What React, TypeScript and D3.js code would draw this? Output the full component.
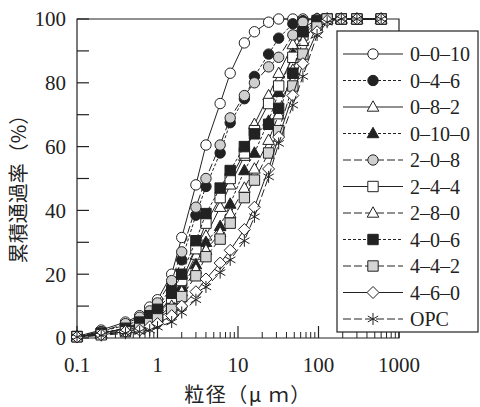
import * as d3 from 'd3';

// particle size (µm) at which each cumulative passing value was read
const sizes = [0.1, 0.2, 0.4, 0.6, 0.8, 1, 1.5, 2, 3, 4, 6, 8, 12, 16, 24, 32, 48, 64, 96, 128, 192, 300, 600];

const pass_0_0_10 = [0.5, 2.5, 5, 7, 9.7, 12, 20, 31.5, 48, 60.5, 73.5, 83, 92.5, 96, 99, 100, 100, 100, 100, 100, 100, 100, 100];
const pass_0_4_6 = [0.5, 2, 4, 5.5, 7.5, 9.5, 16, 24.5, 38.5, 47.5, 58, 67.5, 75, 82, 89, 94, 98.5, 99.5, 100, 100, 100, 100, 100];
const pass_0_8_2 = [0.4, 1.5, 3, 4.5, 6, 7.5, 12, 17, 26, 32, 41, 48, 57, 67, 76, 83, 92, 97, 100, 100, 100, 100, 100];
const pass_0_10_0 = [0.4, 1.5, 3, 4, 5.5, 7, 11, 16, 23, 30, 35, 42, 52.5, 58, 68, 77, 89, 96, 99.5, 100, 100, 100, 100];
const pass_2_0_8 = [0.5, 2, 4.5, 6.5, 8.5, 11, 18, 27, 41, 50, 60.5, 69, 76, 80, 85, 88, 95, 99, 100, 100, 100, 100, 100];
const pass_2_4_4 = [0.4, 1.5, 3, 4.5, 6, 8, 12.5, 18, 28, 36, 44, 50, 58, 65, 73.5, 79, 88, 95, 99, 100, 100, 100, 100];
const pass_2_8_0 = [0.4, 1.2, 2.5, 3.5, 5, 6.5, 10, 14.5, 21.5, 27.5, 33, 39, 47, 53, 62, 70, 84, 93, 99, 100, 100, 100, 100];
const pass_4_0_6 = [0.5, 1.5, 3, 5, 7, 9, 14, 20, 30.5, 39, 47, 52.5, 60, 64, 67, 72, 83, 96, 99.5, 100, 100, 100, 100];
const pass_4_4_2 = [0.4, 1, 2, 3, 4.5, 6, 9, 13, 19.5, 25.5, 31, 36, 44, 49.5, 58, 65, 79, 89, 97.5, 100, 100, 100, 100];
const pass_4_6_0 = [0.3, 1, 2, 2.5, 3.5, 4.5, 7, 10, 14.5, 18.5, 23.5, 27.5, 34, 41, 53, 63, 76, 86, 96, 99.5, 100, 100, 100];
const pass_OPC = [0.3, 0.8, 1.5, 2, 2.5, 3.4, 5, 8, 12, 16, 20.5, 24.5, 30.5, 38, 50.5, 61, 73, 82, 95, 99, 100, 100, 100];

const seriesNames = ['0–0–10', '0–4–6', '0–8–2', '0–10–0', '2–0–8', '2–4–4', '2–8–0', '4–0–6', '4–4–2', '4–6–0', 'OPC'];
const seriesValues = [pass_0_0_10, pass_0_4_6, pass_0_8_2, pass_0_10_0, pass_2_0_8, pass_2_4_4, pass_2_8_0, pass_4_0_6, pass_4_4_2, pass_4_6_0, pass_OPC];

const xTickLabels = ['0.1', '1', '10', '100', '1000'];
const yTickLabels = ['0', '20', '40', '60', '80', '100'];

// styling per series
const markerShapes = ['circle', 'circle', 'triangle', 'triangle', 'circle', 'square', 'triangle', 'square', 'square', 'diamond', 'asterisk'];
const markerFills = ['#fff', '#222', '#fff', '#222', '#cfcfcf', '#fff', '#fff', '#222', '#d4d4d4', '#fff', 'none'];
const lineDashes = ['', '3,2', '', '3,2', '8,3', '', '8,3', '3,2', '8,3', '', '8,3'];

const INK = '#222';

const markerPath = (shape) => {
  switch (shape) {
    case 'circle':
      return 'M5.2,0A5.2,5.2 0 1,1 -5.2,0A5.2,5.2 0 1,1 5.2,0Z';
    case 'triangle':
      return 'M0,-6.2L5.8,4.2L-5.8,4.2Z';
    case 'square':
      return 'M-5.2,-5.2H5.2V5.2H-5.2Z';
    case 'diamond':
      return 'M0,-6L6,0L0,6L-6,0Z';
    default:
      return 'M0,-6V6M-5.2,-3L5.2,3M-5.2,3L5.2,-3';
  }
};

const App = () => {
  const width = 480;
  const height = 407;
  const left = 77;
  const right = 399;
  const top = 19;
  const bottom = 338;

  const x = d3.scaleLog().domain([0.1, 1000]).range([left, right]);
  const y = d3.scaleLinear().domain([0, 100]).range([bottom, top]);

  const line = d3.line().x((d) => x(d[0])).y((d) => y(d[1]));

  const decades = [0.1, 1, 10, 100];
  const minorTicks = decades.flatMap((d) => d3.range(2, 10).map((m) => d * m));
  const majorTicks = [0.1, 1, 10, 100, 1000];
  const yTicks = d3.range(0, 101, 10);

  const legendX = 337;
  const legendTop = 31;
  const legendBottom = 332;
  const rowGap = 26.5;
  const firstRow = 54;

  const serif = '"Liberation Serif", "DejaVu Serif", serif';
  const cjk = '"Noto Sans CJK JP", "Noto Sans CJK SC", sans-serif';

  return (
    <svg width={width} height={height} style={{ position: 'absolute', left: 0, top: 0, background: '#fff' }}>
      {/* frame */}
      <path d={`M${left},${bottom}V${top}H${right}V${bottom}H${left}`} fill="none" stroke={INK} strokeWidth={1.2} />

      {/* y ticks */}
      {yTicks.map((t) => (
        <line key={'yt' + t} x1={left} x2={left + 12} y1={y(t)} y2={y(t)} stroke={INK} strokeWidth={1.2} />
      ))}
      {yTickLabels.map((t) => (
        <text key={'yl' + t} x={66} y={y(+t)} dy="0.35em" textAnchor="end" fontFamily={serif} fontSize={21} fill={INK}>
          {t}
        </text>
      ))}

      {/* x ticks */}
      {minorTicks.map((t) => (
        <line key={'xm' + t} x1={x(t)} x2={x(t)} y1={bottom} y2={bottom - 6} stroke={INK} strokeWidth={1} />
      ))}
      {majorTicks.map((t) => (
        <line key={'xM' + t} x1={x(t)} x2={x(t)} y1={bottom} y2={bottom - 12} stroke={INK} strokeWidth={1.2} />
      ))}
      {xTickLabels.map((t) => (
        <text key={'xl' + t} x={x(+t)} y={372} textAnchor="middle" fontFamily={serif} fontSize={21} fill={INK}>
          {t}
        </text>
      ))}

      {/* axis titles */}
      <text x={248} y={397} textAnchor="middle" dominantBaseline="middle" fontFamily={cjk} fontSize={20} letterSpacing={1.5} fill={INK}>
        粒径（μ ｍ）
      </text>
      <text
        transform={`translate(21,184) rotate(-90)`}
        textAnchor="middle"
        dominantBaseline="middle"
        fontFamily={cjk}
        fontSize={20}
        fill={INK}
      >
        累積通過率（%）
      </text>

      {/* series */}
      {seriesValues.map((vals, i) => {
        const pts = sizes.map((s, j) => [s, vals[j]]);
        return (
          <g key={'s' + i}>
            <path d={line(pts)} fill="none" stroke={INK} strokeWidth={1} strokeDasharray={lineDashes[i]} />
            {pts.map((p, j) => (
              <path
                key={j}
                d={markerPath(markerShapes[i])}
                transform={`translate(${x(p[0])},${y(p[1])})`}
                fill={markerFills[i]}
                stroke={INK}
                strokeWidth={1}
              />
            ))}
          </g>
        );
      })}

      {/* legend */}
      <rect x={legendX} y={legendTop} width={478 - legendX} height={legendBottom - legendTop} fill="#fff" stroke={INK} strokeWidth={1.2} />
      {seriesNames.map((name, i) => {
        const cy = firstRow + i * rowGap;
        return (
          <g key={'lg' + i}>
            <line x1={343} x2={403} y1={cy} y2={cy} stroke={INK} strokeWidth={1} strokeDasharray={lineDashes[i]} />
            <path d={markerPath(markerShapes[i])} transform={`translate(373,${cy})`} fill={markerFills[i]} stroke={INK} strokeWidth={1} />
            <text x={410} y={cy} dy="0.35em" fontFamily={serif} fontSize={20} fill={INK}>
              {name}
            </text>
          </g>
        );
      })}
    </svg>
  );
};

export default App;
